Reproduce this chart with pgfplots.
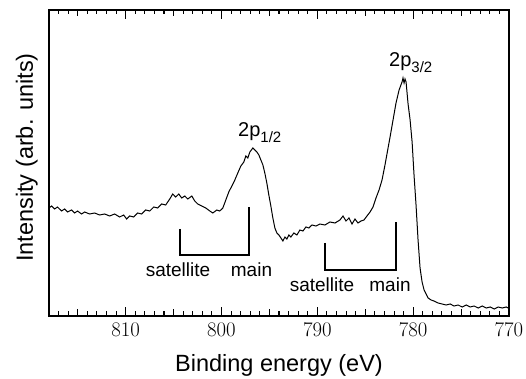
\documentclass[border=0pt]{standalone}
\usepackage{fontspec}
\setmainfont{Liberation Sans}
\usepackage{pgfplots}
\pgfplotsset{compat=1.18}
\begin{document}
\begin{tikzpicture}
\begin{axis}[
  at={(0,0)}, anchor=south west,
  scale only axis, width=460pt, height=306pt,
  xmin=770, xmax=818, ymin=0, ymax=306,
  x dir=reverse,
  xtick={770,780,790,800,810},
  minor x tick num=9,
  ytick=\empty,
  tick align=inside,
  xtick pos=both,
  major tick length=9pt, minor tick length=4.5pt,
  tick style={black, line width=1pt},
  xticklabel style={font=\fontsize{21}{21}\selectfont, yshift=-4pt},
  /pgf/number format/1000 sep={},
  clip=false,
]
\addplot[black, line width=1pt] table {
x y
818.00 108
817.73 110
817.42 107
817.11 109
816.69 105
816.37 107
816.06 104
815.64 106
815.33 103
815.02 105
814.60 102
814.28 104
813.76 102
813.24 103
812.72 101
812.19 102
811.67 100
811.15 102
810.63 99
810.21 101
809.90 97
809.58 100
809.16 99
808.75 103
808.33 102
807.91 106
807.49 105
807.07 109
806.66 108
806.24 112
805.82 111
805.40 117
805.09 122
804.78 119
804.46 122
804.15 118
803.83 120
803.52 117
803.10 120
802.79 115
802.48 112
802.06 110
801.64 108
801.22 105
800.91 103
800.49 106
800.18 105
799.86 108
799.55 116
799.24 124
798.92 130
798.61 136
798.30 143
797.98 150
797.67 154
797.46 160
797.25 158
797.04 164
796.73 168
796.52 166
796.31 164
796.10 161
795.89 156
795.68 151
795.48 143
795.27 133
795.06 121
794.85 110
794.64 98
794.43 88
794.22 83
794.01 81
793.80 78
793.59 75
793.38 79
793.18 77
792.97 81
792.76 79
792.45 83
792.13 81
791.82 86
791.50 85
791.19 89
790.88 88
790.56 91
790.15 90
789.73 92
789.21 91
788.68 94
788.16 93
787.64 96
787.32 100
787.01 95
786.70 98
786.38 92
786.07 97
785.76 93
785.44 95
785.13 96
784.82 100
784.50 104
784.19 109
783.88 118
783.56 126
783.25 136
782.94 151
782.62 168
782.41 179
782.10 196
781.79 213
781.47 226
781.16 234
781.06 238
780.95 233
780.85 237
780.74 234
780.53 212
780.32 196
780.11 174
779.91 141
779.70 111
779.49 76
779.28 48
779.07 34
778.86 26
778.65 22
778.44 18
778.13 16
777.82 15
777.40 13
776.98 12
776.56 11
776.14 12
775.73 10
775.31 11
774.89 9
774.47 11
774.05 9
773.64 10
773.22 8
772.80 10
772.38 8
771.96 9
771.55 7
771.13 9
770.71 8
770.29 9
770.08 8
};
\end{axis}
% frame and tick marks (every 1 eV, 5 eV and 10 eV)
\draw[line width=1.4pt] (0,0) rectangle (460pt,306pt);
\foreach \e in {771,...,817} {
  \draw[line width=1pt] ({(818-\e)*9.5833pt},0) -- ++(0,4.5pt);
  \draw[line width=1pt] ({(818-\e)*9.5833pt},306pt) -- ++(0,-4.5pt);
}
\foreach \e in {775,785,795,805,815} {
  \draw[line width=1pt] ({(818-\e)*9.5833pt},0) -- ++(0,6.5pt);
  \draw[line width=1pt] ({(818-\e)*9.5833pt},306pt) -- ++(0,-6.5pt);
}
\foreach \e in {780,790,800,810} {
  \draw[line width=1pt] ({(818-\e)*9.5833pt},0) -- ++(0,9pt);
  \draw[line width=1pt] ({(818-\e)*9.5833pt},306pt) -- ++(0,-9pt);
}
\draw[line width=1.1pt] (131pt,87pt) -- (131pt,61pt) -- (200pt,61pt) -- (200pt,109pt);
\draw[line width=1.1pt] (276pt,73pt) -- (276pt,46pt) -- (347pt,46pt) -- (347pt,94pt);
\node[anchor=base, font=\fontsize{19}{19}\selectfont] at (129pt,39pt) {satellite};
\node[anchor=base, font=\fontsize{19}{19}\selectfont] at (202.5pt,39pt) {main};
\node[anchor=base, font=\fontsize{19}{19}\selectfont] at (273pt,24pt) {satellite};
\node[anchor=base, font=\fontsize{19}{19}\selectfont] at (341pt,24pt) {main};
\node[anchor=base west, inner sep=0pt, font=\fontsize{20}{20}\selectfont] at (189pt,179pt) {2p\raisebox{-5.5pt}{\fontsize{15}{15}\selectfont 1/2}};
\node[anchor=base west, inner sep=0pt, font=\fontsize{20}{20}\selectfont] at (340pt,249pt) {2p\raisebox{-5.5pt}{\fontsize{15}{15}\selectfont 3/2}};
\node[rotate=90, anchor=base, font=\fontsize{23.5}{23.5}\selectfont] at (-16pt,158.5pt) {Intensity (arb. units)};
\node[anchor=base, font=\fontsize{23.5}{23.5}\selectfont] at (230pt,-56pt) {Binding energy (eV)};
\pgfresetboundingbox
\path[use as bounding box] (-49pt,-63pt) rectangle (477pt,316pt);
\end{tikzpicture}
\end{document}
